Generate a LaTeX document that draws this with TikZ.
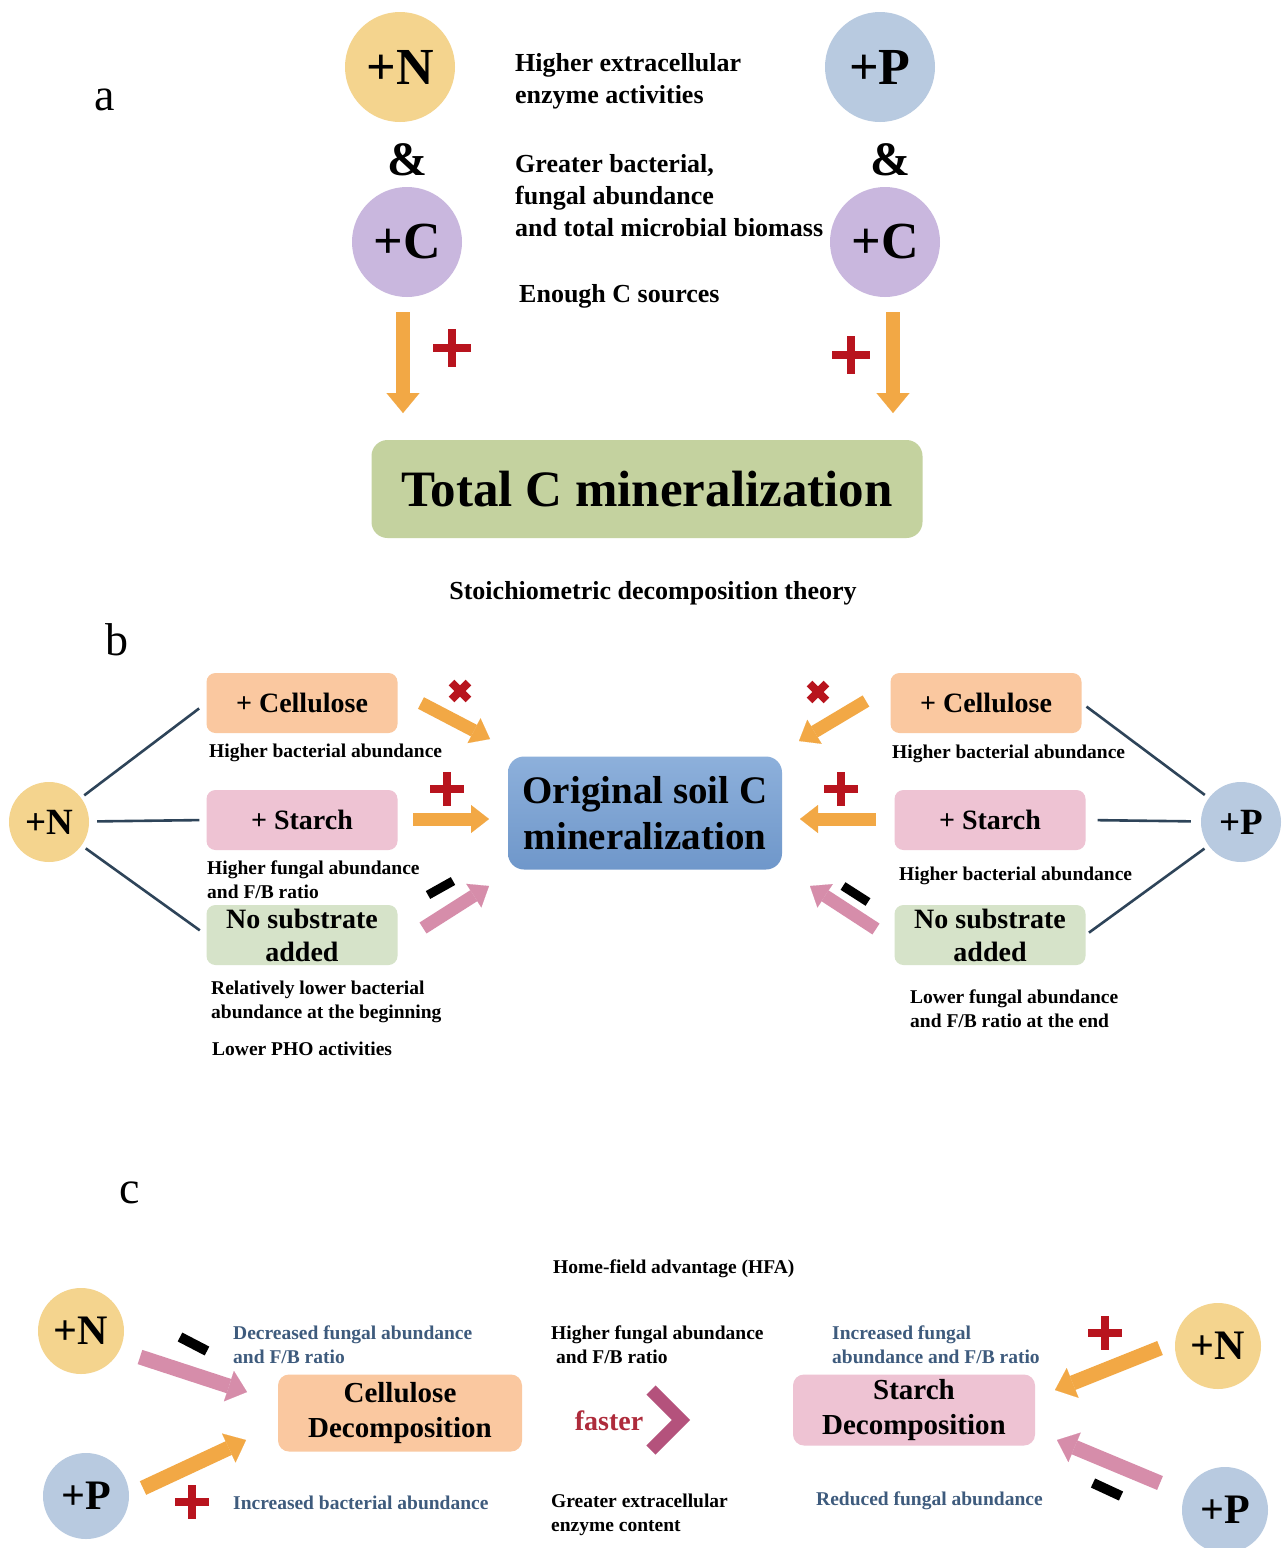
\documentclass[tikz,border=0pt]{standalone}
\usepackage{fontspec}
\setmainfont{Liberation Serif}
\usetikzlibrary{arrows.meta}
\definecolor{ncol}{HTML}{F4D48E}
\definecolor{pcol}{HTML}{B8CAE0}
\definecolor{ccol}{HTML}{C9B7DE}
\definecolor{orcol}{HTML}{F2A845}
\definecolor{pkcol}{HTML}{D68DAA}
\definecolor{redcol}{HTML}{B8141E}
\definecolor{greenbox}{HTML}{C4D29F}
\definecolor{bluetop}{HTML}{8DB0DB}
\definecolor{bluebot}{HTML}{6F97CA}
\definecolor{cellcol}{HTML}{FAC8A0}
\definecolor{starchcol}{HTML}{EEC3D3}
\definecolor{nosubcol}{HTML}{D6E3C9}
\definecolor{linecol}{HTML}{2E4459}
\definecolor{bluetxt}{HTML}{3E5B7D}
\definecolor{fastcol}{HTML}{AE2B3B}
\definecolor{chevcol}{HTML}{B4527C}
\newcommand\plusmark[4]{\begin{scope}[shift={(#1,#2)},rotate=#4]\draw[markline] (-#3,0) -- (#3,0) (0,-#3) -- (0,#3);\end{scope}}
\begin{document}
\begin{tikzpicture}[x=1pt,y=-1pt,
  bigcirc/.style={circle, inner sep=0pt, minimum size=110pt, font=\bfseries\fontsize{52}{52}\selectfont},
  midcirc/.style={circle, inner sep=0pt, minimum size=80pt, font=\bfseries\fontsize{37}{37}\selectfont},
  ccirc/.style={circle, inner sep=0pt, minimum size=86pt, font=\bfseries\fontsize{42}{42}\selectfont},
  amp/.style={inner sep=0pt, font=\bfseries\fontsize{48}{48}\selectfont},
  lab/.style={inner sep=0pt, font=\fontsize{46}{46}\selectfont},
  tbig/.style={inner sep=0pt, anchor=west, align=left, font=\bfseries\fontsize{26}{32}\selectfont},
  tsm/.style={inner sep=0pt, anchor=west, align=left, font=\bfseries\fontsize{19.5}{24}\selectfont},
  sbox/.style={rounded corners=9pt, minimum width=191pt, minimum height=60pt, inner sep=0pt, align=center, font=\bfseries\fontsize{28}{33}\selectfont},
  dbox/.style={rounded corners=11pt, inner sep=0pt, align=center, font=\bfseries\fontsize{29}{35}\selectfont},
  conn/.style={draw=linecol, line width=2.6pt},
  arrA/.style={draw=orcol, line width=14pt, -{Triangle[width=33pt,length=20pt,line width=0.1pt]}},
  arrB/.style={line width=13pt, -{Triangle[width=28pt,length=18pt,line width=0.1pt]}},
  arrC/.style={line width=15pt, -{Triangle[width=32pt,length=19pt,line width=0.1pt]}},
  markline/.style={draw=redcol, line width=8pt},
  minus/.style={draw=black, line width=9pt},
]
\useasboundingbox (0,0) rectangle (1287,1548);
\fill[white] (0,0) rectangle (1287,1548);

% ---------------- a ----------------
\node[lab] (la) at (105,100) {a};
\node[bigcirc, fill=ncol] (aN) at (400,67) {+N};
\node[amp] (aamp1) at (407,160) {\&};
\node[bigcirc, fill=ccol] (aC1) at (407,242) {+C};
\node[bigcirc, fill=pcol] (aP) at (880,67) {+P};
\node[amp] (aamp2) at (890,160) {\&};
\node[bigcirc, fill=ccol] (aC2) at (885,242) {+C};
\node[tbig] (ta1) at (515,81) {Higher extracellular\\enzyme activities};
\node[tbig] (ta2) at (515,196) {Greater bacterial,\\fungal abundance\\and total microbial biomass};
\node[tbig] (ta3) at (519,296) {Enough C sources};
\node[rounded corners=16pt, fill=greenbox, minimum width=551pt, minimum height=98pt, inner sep=0pt,
      font=\bfseries\fontsize{51}{51}\selectfont] (total) at (647,489) {Total C mineralization};
\coordinate (a1s) at (403,312);
\coordinate (a1e) at (403,413);
\coordinate (a2s) at (893,312);
\coordinate (a2e) at (893,413);
\draw[arrA] (a1s) -- (a1e);
\draw[arrA] (a2s) -- (a2e);
\plusmark{452}{348}{19}{0}
\plusmark{851}{355}{19}{0}
\node[inner sep=0pt, font=\bfseries\fontsize{26}{26}\selectfont] (stoich) at (653,593) {Stoichiometric decomposition theory};

% ---------------- b ----------------
\node[lab] (lb) at (117,640) {b};
\node[midcirc, fill=ncol] (bN) at (49,822) {+N};
\node[midcirc, fill=pcol] (bP) at (1241,822) {+P};
\node[dbox, top color=bluetop, bottom color=bluebot, minimum width=274pt, minimum height=113pt, rounded corners=16pt,
      font=\bfseries\fontsize{39}{46}\selectfont] (orig) at (645,813) {Original soil C\\mineralization};
\node[sbox, fill=cellcol] (bLc) at (302,703) {+ Cellulose};
\node[sbox, fill=starchcol] (bLs) at (302,820) {+ Starch};
\node[sbox, fill=nosubcol] (bLn) at (302,935) {No substrate\\added};
\node[sbox, fill=cellcol] (bRc) at (986,703) {+ Cellulose};
\node[sbox, fill=starchcol] (bRs) at (990,820) {+ Starch};
\node[sbox, fill=nosubcol] (bRn) at (990,935) {No substrate\\added};
\draw[conn, shorten <=4pt, shorten >=9pt] (bN) -- (bLc.west);
\draw[conn, shorten <=8pt, shorten >=7pt] (bN) -- (bLs.west);
\draw[conn, shorten <=5pt, shorten >=8pt] (bN) -- (bLn.west);
\draw[conn, shorten <=6pt, shorten >=5pt] (bRc.east) -- (bP);
\draw[conn, shorten <=12pt, shorten >=10pt] (bRs.east) -- (bP);
\draw[conn, shorten <=4pt, shorten >=5pt] (bRn.east) -- (bP);
\node[tsm] (tb1) at (209,753) {Higher bacterial abundance};
\node[tsm] (tb2) at (207,880) {Higher fungal abundance\\and F/B ratio};
\node[tsm] (tb3) at (211,1002) {Relatively lower bacterial\\abundance at the beginning};
\node[tsm] (tb4) at (212,1049) {Lower PHO activities};
\node[tsm] (tb5) at (892,754) {Higher bacterial abundance};
\node[tsm] (tb6) at (899,876) {Higher bacterial abundance};
\node[tsm] (tb7) at (910,1009) {Lower fungal abundance\\and F/B ratio at the end};
% arrows into the centre box
\coordinate (b1s) at (421,703); \coordinate (b1e) at (490,739);
\coordinate (b2s) at (413,819); \coordinate (b2e) at (489,819);
\coordinate (b3s) at (423,928); \coordinate (b3e) at (489,886);
\coordinate (b4s) at (866,701); \coordinate (b4e) at (799,741);
\coordinate (b5s) at (876,819); \coordinate (b5e) at (800,819);
\coordinate (b6s) at (876,929); \coordinate (b6e) at (810,886);
\draw[arrB, draw=orcol] (b1s) -- (b1e);
\draw[arrB, draw=orcol] (b2s) -- (b2e);
\draw[arrB, draw=pkcol] (b3s) -- (b3e);
\draw[arrB, draw=orcol] (b4s) -- (b4e);
\draw[arrB, draw=orcol] (b5s) -- (b5e);
\draw[arrB, draw=pkcol] (b6s) -- (b6e);
\plusmark{460}{691}{12}{45}
\plusmark{818}{692}{12}{45}
\plusmark{447}{789}{17}{0}
\plusmark{841}{789}{17}{0}
\draw[minus] (428,895) -- (453,881);
\draw[minus] (843,886) -- (868,902);

% ---------------- c ----------------
\node[lab] (lc) at (130,1193) {c};
\node[tsm] (hfa) at (553,1269) {Home-field advantage (HFA)};
\node[ccirc, fill=ncol] (cN1) at (81,1331) {+N};
\node[ccirc, fill=pcol] (cP1) at (86,1496) {+P};
\node[ccirc, fill=ncol] (cN2) at (1218,1346) {+N};
\node[ccirc, fill=pcol] (cP2) at (1225,1510) {+P};
\node[dbox, fill=cellcol, minimum width=244pt, minimum height=77pt] (cCell) at (400,1413) {Cellulose\\Decomposition};
\node[dbox, fill=starchcol, minimum width=242pt, minimum height=71pt] (cStar) at (914,1410) {Starch\\Decomposition};
\node[tsm, text=bluetxt] (tc1) at (233,1345) {Decreased fungal abundance\\and F/B ratio};
\node[tsm, text=bluetxt] (tc2) at (233,1503) {Increased bacterial abundance};
\node[tsm] (tc3) at (551,1345) {Higher fungal abundance\\\hspace*{0.25em}and F/B ratio};
\node[tsm] (tc4) at (551,1515) {Greater extracellular\\enzyme content};
\node[tsm, text=bluetxt] (tc5) at (832,1345) {Increased fungal\\abundance and F/B ratio};
\node[tsm, text=bluetxt] (tc6) at (816,1501) {Reduced fungal abundance};
\node[inner sep=0pt, text=fastcol, font=\bfseries\fontsize{28}{28}\selectfont] (fast) at (609,1421) {faster};
\coordinate (chA) at (651,1390);
\coordinate (chB) at (681,1420);
\coordinate (chC) at (651,1450);
\draw[draw=chevcol, line width=13pt, miter limit=10] (chA) -- (chB) -- (chC);
\coordinate (c1s) at (140,1357); \coordinate (c1e) at (247,1392);
\coordinate (c2s) at (143,1488); \coordinate (c2e) at (246,1440);
\coordinate (c3s) at (1160,1348); \coordinate (c3e) at (1055,1390);
\coordinate (c4s) at (1160,1483); \coordinate (c4e) at (1057,1440);
\draw[arrC, draw=pkcol] (c1s) -- (c1e);
\draw[arrC, draw=orcol] (c2s) -- (c2e);
\draw[arrC, draw=orcol] (c3s) -- (c3e);
\draw[arrC, draw=pkcol] (c4s) -- (c4e);
\draw[minus, line width=10pt] (180,1337) -- (207,1351);
\draw[minus, line width=10pt] (1093,1483) -- (1121,1496);
\plusmark{192}{1502}{17}{0}
\plusmark{1105}{1333}{17}{0}
\end{tikzpicture}
\end{document}
